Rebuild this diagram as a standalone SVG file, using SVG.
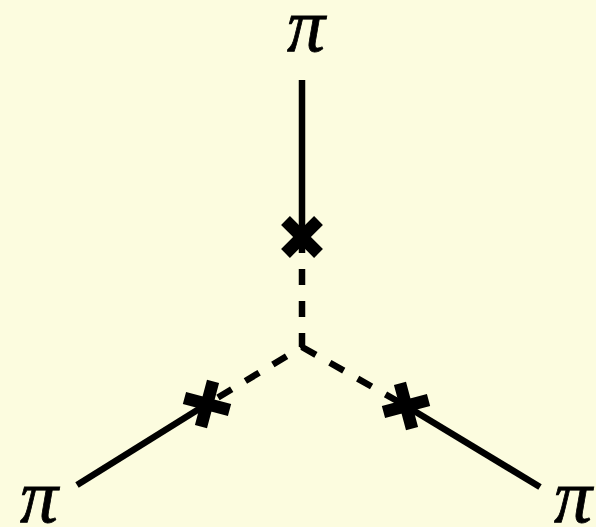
<svg xmlns="http://www.w3.org/2000/svg" width="596" height="527" viewBox="0 0 596 527">
<style>
.solid{stroke:#000;stroke-width:6.5;fill:none}
.dash{stroke:#000;stroke-width:6.5;fill:none;stroke-dasharray:16 16}
.pi{font-family:"Liberation Serif","DejaVu Serif",serif;font-style:italic;font-size:76px;fill:#000;text-anchor:middle}
</style>
<defs>
<g id="cross"><path d="M-16.5,-16.5 L16.5,16.5 M-16.5,16.5 L16.5,-16.5" stroke="#000" stroke-width="12.5" fill="none"/></g>
</defs>
<rect width="596" height="527" fill="#FCFCDF"/>
<g id="connectors">
<line class="solid" x1="302" y1="80" x2="302" y2="237"/>
<line class="solid" x1="77" y1="485" x2="207" y2="404"/>
<line class="solid" x1="540" y1="487" x2="406" y2="406"/>
<path class="dash" d="M302,237 L302,347 L207,404 M302,347 L406,406"/>
</g>
<g id="cross-top"><use href="#cross" x="302" y="237"/></g>
<g id="cross-left"><use href="#cross" transform="translate(207,404) rotate(-30)"/></g>
<g id="cross-right"><use href="#cross" transform="translate(406,406) rotate(30)"/></g>
<g id="pi-top"><text class="pi" x="306" y="51" stroke="#000" stroke-width="0.8">π</text></g>
<g id="pi-left"><text class="pi" x="39" y="522" stroke="#000" stroke-width="0.8">π</text></g>
<g id="pi-right"><text class="pi" x="573" y="522" stroke="#000" stroke-width="0.8">π</text></g>
</svg>
